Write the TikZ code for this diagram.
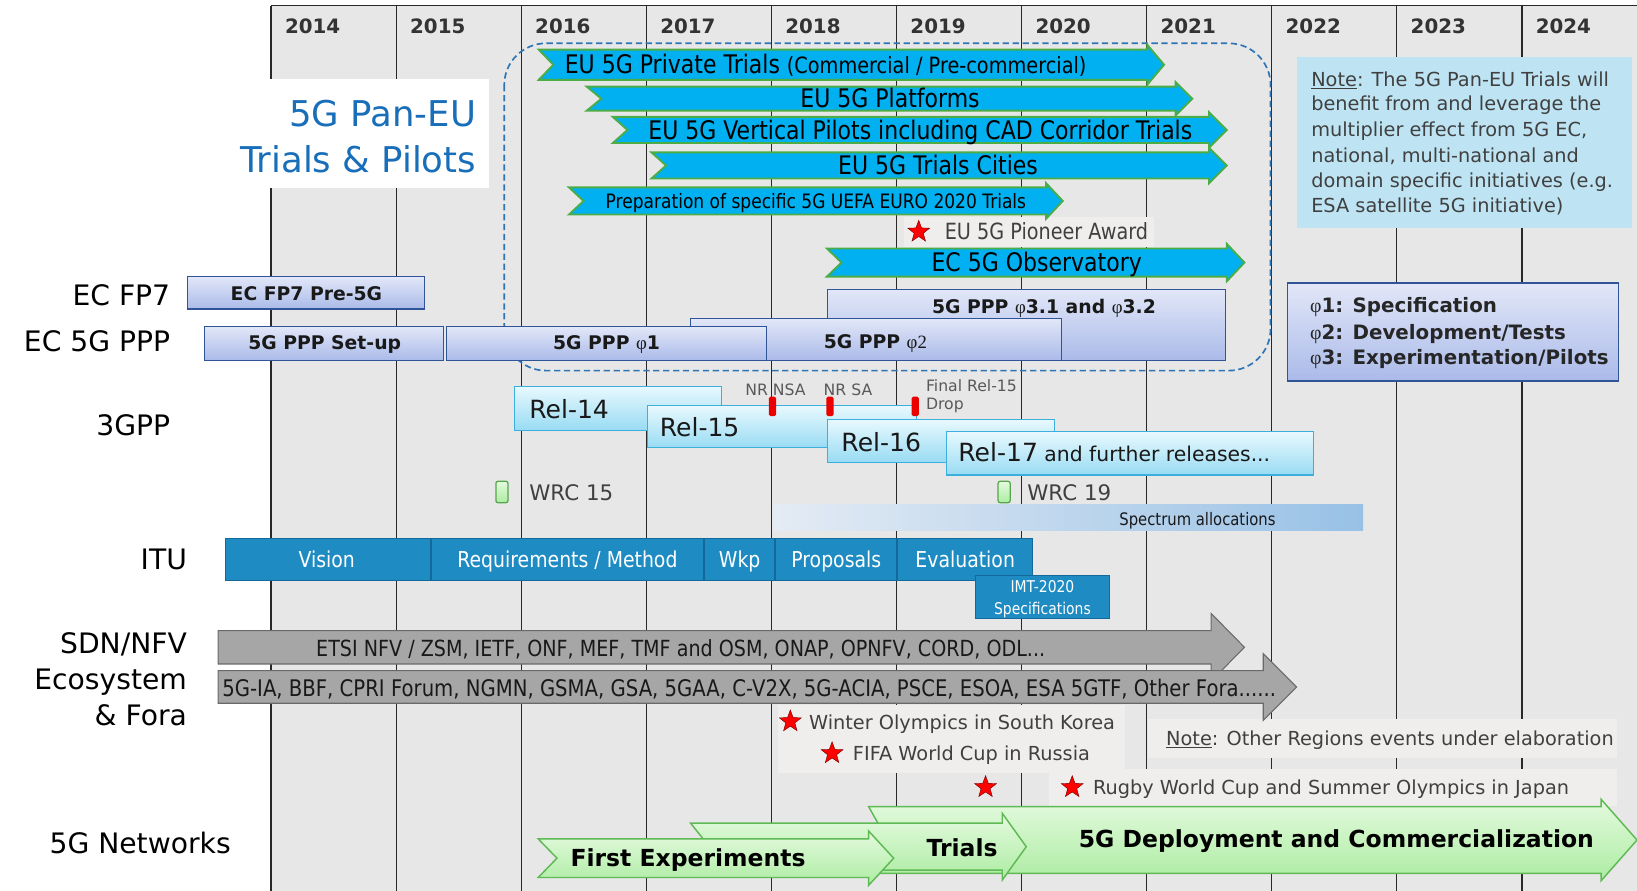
\documentclass[tikz,border=0pt]{standalone}
\usepackage{fontspec}
\setmainfont{DejaVu Sans}[FakeStretch=0.86]
\newfontfamily\wide{DejaVu Sans}
\newfontfamily\phif{Liberation Serif}
\usetikzlibrary{shapes.geometric}
\newcommand\fsz[1]{\fontsize{#1pt}{#1pt}\selectfont}
\definecolor{bggray}{RGB}{231,231,231}
\definecolor{gridc}{RGB}{40,40,40}
\definecolor{cyanF}{RGB}{0,176,240}
\definecolor{cyanB}{RGB}{76,172,70}
\definecolor{panblue}{RGB}{25,110,185}
\definecolor{dashblue}{RGB}{46,117,182}
\definecolor{notebg}{RGB}{190,228,243}
\definecolor{txtgray}{RGB}{64,64,64}
\definecolor{pppT}{RGB}{226,231,248}
\definecolor{pppB}{RGB}{170,186,233}
\definecolor{pppD}{RGB}{47,85,151}
\definecolor{relT}{RGB}{232,249,254}
\definecolor{relB}{RGB}{152,219,243}
\definecolor{relD}{RGB}{60,175,220}
\definecolor{ituF}{RGB}{30,139,195}
\definecolor{ituD}{RGB}{20,105,155}
\definecolor{arrG}{RGB}{166,166,166}
\definecolor{arrGD}{RGB}{105,105,105}
\definecolor{grnT}{RGB}{228,250,222}
\definecolor{grnB}{RGB}{172,236,162}
\definecolor{grnD}{RGB}{95,185,85}
\definecolor{panel}{RGB}{239,238,236}
\definecolor{specR}{RGB}{152,193,230}
\definecolor{specL}{RGB}{228,235,244}
\newcommand\rbnarrow[8]{\path[#1] ({#2},{#6-#7}) -- ({#4},{#6-#7}) -- ({#4},{#6-#8}) -- ({#5},{#6}) -- ({#4},{#6+#8}) -- ({#4},{#6+#7}) -- ({#2},{#6+#7}) -- ({#2+#3},{#6}) -- cycle;}
\begin{document}
\begin{tikzpicture}[x=1pt,y=-1pt,
  txt/.style={inner sep=0pt, outer sep=0pt},
  tN/.style={txt, anchor=base, yshift={-0.36*#1pt}, font=\fsz{#1}},
  vN/.style={txt, anchor=base, yshift={-0.36*#1pt}, font=\wide\fsz{#1}},
  vB/.style={txt, anchor=base, yshift={-0.36*#1pt}, font=\wide\bfseries\fsz{#1}},
  cyanarrow/.style={fill=cyanF, draw=cyanB, line width=1.8pt, line join=miter},
  grayarrow/.style={fill=arrG, draw=arrGD, line width=1pt},
  greenarrow/.style={top color=grnT, bottom color=grnB, draw=grnD, line width=1.4pt},
  pppbox/.style={top color=pppT, bottom color=pppB, draw=pppD, line width=1.1pt},
  relbox/.style={top color=relT, bottom color=relB, draw=relD, line width=1.1pt},
  itubox/.style={fill=ituF, draw=ituD, line width=0.8pt},
  redstar/.style={star, star points=5, star point ratio=2.4, fill=red, draw=red!45!black, line width=0.4pt, minimum size=22pt, inner sep=0pt},
  rowlbl/.style={vN=27, anchor=base east, text=black},
  reltxt/.style={txt, anchor=base west, font=\wide\fsz{24}, text=black!90},
  notetxt/.style={txt, anchor=base west, font=\wide\fsz{18.5}, text=txtgray},
  phasetxt/.style={txt, anchor=base west, font=\wide\bfseries\fsz{19}, text=black!85}
]
\useasboundingbox (0,0) rectangle (1568,853);
\fill[white] (0,0) rectangle (1568,853);
% background and grid
\fill[bggray] (259.7,5.4) rectangle (1568,853);
\foreach \k in {0,...,10} {
  \draw[gridc, line width=1.3pt] ({259.7+119.8*\k},5.4) -- ({259.7+119.8*\k},853);
  \pgfmathtruncatemacro\yr{2014+\k}
  \node[vB=19, text=black!80] (yr\yr) at ({299.5+119.8*\k},25.5) {\yr};
}
\draw[gridc, line width=1.3pt] (259.7,5.4) -- (1568,5.4);
% title box
\fill[white] (90,76) rectangle (468,180);
\node[txt, anchor=base east, font=\wide\fsz{34}, text=panblue] (pan1) at (456,120.7) {5G Pan-EU};
\node[txt, anchor=base east, font=\wide\fsz{34}, text=panblue] (pan2) at (456,165.4) {Trials \& Pilots};
% light panels
\fill[panel] (866,208) rectangle (1105,237);
\fill[panel] (745,675) rectangle (1078,740);
\fill[panel] (1100,689) rectangle (1549,726);
\fill[panel] (1005,737) rectangle (1549,772);
% note box
\fill[notebg] (1242,55) rectangle (1563,218.5);
\node[notetxt] (n1) at (1256,82.4) {\underline{Note}: The 5G Pan-EU Trials will};
\node[notetxt] (n2) at (1256,106.3) {benefit from and leverage the};
\node[notetxt] (n3) at (1256,131) {multiplier effect from 5G EC,};
\node[notetxt] (n4) at (1256,155.4) {national, multi-national and};
\node[notetxt] (n5) at (1256,179.8) {domain specific initiatives (e.g.};
\node[notetxt] (n6) at (1256,204) {ESA satellite 5G initiative)};
% phase legend
\path[pppbox] (1233,271) rectangle (1550,365);
\node[phasetxt] (ph1) at (1255,299) {{\phif\mdseries φ}1: Specification};
\node[phasetxt] (ph2) at (1255,325) {{\phif\mdseries φ}2: Development/Tests};
\node[phasetxt] (ph3) at (1255,349) {{\phif\mdseries φ}3: Experimentation/Pilots};
% dashed frame
\draw[dashblue, line width=1.6pt, dash pattern=on 6pt off 3.5pt, rounded corners=40pt] (483,41.5) rectangle (1217,355);
% cyan arrows
\rbnarrow{cyanarrow}{516}{14}{1099}{1115}{62}{14.5}{19}
\rbnarrow{cyanarrow}{562}{14}{1126}{1142}{94.5}{11.5}{16}
\rbnarrow{cyanarrow}{587}{14}{1158}{1175}{124.5}{12.5}{17}
\rbnarrow{cyanarrow}{624}{14}{1158}{1175}{158.5}{12.5}{17}
\rbnarrow{cyanarrow}{545}{14}{1002}{1018}{192.5}{13}{17}
\rbnarrow{cyanarrow}{792}{14}{1175}{1192}{251.5}{13.5}{18}
\node[tN=24.5, anchor=base west] (a1) at (541,62) {EU 5G Private Trials {\fsz{21.5}(Commercial / Pre-commercial)}};
\node[tN=24.5] (a2) at (852.5,94.5) {EU 5G Platforms};
\node[tN=24.5] (a3) at (881.5,124.5) {EU 5G Vertical Pilots including CAD Corridor Trials};
\node[tN=24.5] (a4) at (898.5,158.5) {EU 5G Trials Cities};
\node[tN=19] (a5) at (781.5,192.5) {Preparation of specific 5G UEFA EURO 2020 Trials};
\node[tN=24.5] (a6) at (993,251.5) {EC 5G Observatory};
% pioneer award
\node[redstar] (s1) at (880,222) {};
\node[tN=21.4, anchor=base west, text=txtgray] (pion) at (905,222) {EU 5G Pioneer Award};
% PPP boxes
\path[pppbox] (180,265) rectangle (407,296);
\path[pppbox] (793,277) rectangle (1174,345);
\path[pppbox] (661,305) rectangle (1017,345);
\path[pppbox] (195.5,313) rectangle (425,345);
\path[pppbox] (428,313) rectangle (734,345);
\node[vB=18, text=black!90] (fp7) at (293.5,281) {EC FP7 Pre-5G};
\node[vB=18, text=black!90] (setup) at (311,328) {5G PPP Set-up};
\node[vB=18, text=black!90] (ph1b) at (581,328) {5G PPP {\phif\mdseries φ}1};
\node[vB=18, text=black!90] (ph2b) at (838.5,327) {5G PPP {\phif\mdseries φ2}};
\node[vB=18, text=black!90] (ph3b) at (1000,294) {5G PPP {\phif\mdseries φ}3.1 and {\phif\mdseries φ}3.2};
% 3GPP releases
\path[relbox] (493,370) rectangle (691,412);
\path[relbox] (620,388.6) rectangle (878,429);
\path[relbox] (793,402) rectangle (1010,442.6);
\path[relbox] (906.7,413.5) rectangle (1258,455);
\node[reltxt] (r14) at (507,400.5) {Rel-14};
\node[reltxt] (r15) at (632,418) {Rel-15};
\node[reltxt] (r16) at (806,432.6) {Rel-16};
\node[reltxt] (r17) at (918,442) {Rel-17{\fsz{19.5} and further releases...}};
\foreach \mx in {740,795,876.6}
  \path[fill=red!92!black, rounded corners=1.5pt] ({\mx-3.5},380) rectangle ({\mx+3.5},398.5);
\node[vN=15, anchor=base west, text=black!65] (nr1) at (714,373.6) {NR NSA};
\node[vN=15, anchor=base west, text=black!65] (nr2) at (789,373.6) {NR SA};
\node[vN=15, anchor=base west, text=black!65] (nr3) at (887,370) {Final Rel-15};
\node[vN=15, anchor=base west, text=black!65] (nr4) at (887,387) {Drop};
% WRC
\path[top color=grnT, bottom color=grnB, draw=grnD!90!black, line width=1.2pt, rounded corners=2pt] (475,461) rectangle (486.6,481.5);
\path[top color=grnT, bottom color=grnB, draw=grnD!90!black, line width=1.2pt, rounded corners=2pt] (956,461) rectangle (967.6,481.5);
\node[vN=20.5, anchor=base west, text=txtgray] (wrc15) at (507,472) {WRC 15};
\node[vN=20.5, anchor=base west, text=txtgray] (wrc19) at (984,472) {WRC 19};
% spectrum
\shade[left color=specL, right color=specR] (741,483) rectangle (1305.6,507.7);
\node[tN=16.5, text=black!90] (spec) at (1147,497) {Spectrum allocations};
% ITU
\path[itubox] (215.5,515.5) rectangle (412,556);
\path[itubox] (413,515.5) rectangle (674,556);
\path[itubox] (675,515.5) rectangle (741.5,556);
\path[itubox] (743,515.5) rectangle (859,556);
\path[itubox] (860,515.5) rectangle (989,556);
\path[itubox] (934,551) rectangle (1063,592);
\node[tN=21, text=white] (vis) at (313,536) {Vision};
\node[tN=21, text=white] (req) at (543.5,536) {Requirements / Method};
\node[tN=21, text=white] (wkp) at (708.5,536) {Wkp};
\node[tN=21, text=white] (prop) at (801,536) {Proposals};
\node[tN=21, text=white] (eval) at (924.5,536) {Evaluation};
\node[tN=15.5, text=white] (imt1) at (998.5,562) {IMT-2020};
\node[tN=15.5, text=white] (imt2) at (998.5,582.6) {Specifications};
% gray arrows
\rbnarrow{grayarrow}{209}{0}{1160}{1192}{620}{16}{32.5}
\rbnarrow{grayarrow}{209}{0}{1210}{1242}{658}{15.6}{32}
\node[tN=21.3, text=black!90] (sdn1) at (652,621) {ETSI NFV / ZSM, IETF, ONF, MEF, TMF and OSM, ONAP, OPNFV, CORD, ODL...};
\node[tN=21.9, anchor=base west, text=black!90] (sdn2) at (213,659) {5G-IA, BBF, CPRI Forum, NGMN, GSMA, GSA, 5GAA, C-V2X, 5G-ACIA, PSCE, ESOA, ESA 5GTF, Other Fora......};
% events
\node[redstar] (s2) at (757,691) {};
\node[vN=18.5, anchor=base west, text=txtgray] (wint) at (775,692) {Winter Olympics in South Korea};
\node[redstar] (s3) at (797,721.5) {};
\node[vN=18.5, anchor=base west, text=txtgray] (fifa) at (817,722) {FIFA World Cup in Russia};
\node[redstar] (s4) at (944,754) {};
\node[redstar] (s5) at (1027,754) {};
\node[vN=18.5, anchor=base west, text=txtgray] (rugby) at (1047,754) {Rugby World Cup and Summer Olympics in Japan};
\node[vN=18.5, anchor=base west, text=txtgray] (other) at (1117,707) {\underline{Note}: Other Regions events under elaboration};
% green arrows
\rbnarrow{greenarrow}{832}{18}{1533.6}{1568}{804.6}{32}{39}
\rbnarrow{greenarrow}{661.5}{18}{960}{983}{811}{22.5}{32}
\rbnarrow{greenarrow}{515.5}{18}{832}{856}{822}{18.5}{26}
\node[vB=22.5, text=black] (fe) at (659,822) {First Experiments};
\node[vB=22.5, text=black] (tr) at (921.5,812) {Trials};
\node[vB=22.5, text=black] (dep) at (1280,804) {5G Deployment and Commercialization};
% row labels
\node[rowlbl] (lfp7) at (163,282.6) {EC FP7};
\node[rowlbl] (lppp) at (163,327) {EC 5G PPP};
\node[rowlbl] (l3gpp) at (163,407) {3GPP};
\node[rowlbl] (litu) at (179,536) {ITU};
\node[rowlbl] (lsdn) at (179,616) {SDN/NFV};
\node[rowlbl] (leco) at (179,651) {Ecosystem};
\node[rowlbl] (lfora) at (179,685) {\& Fora};
\node[rowlbl] (lnet) at (221,808) {5G Networks};
\end{tikzpicture}
\end{document}
